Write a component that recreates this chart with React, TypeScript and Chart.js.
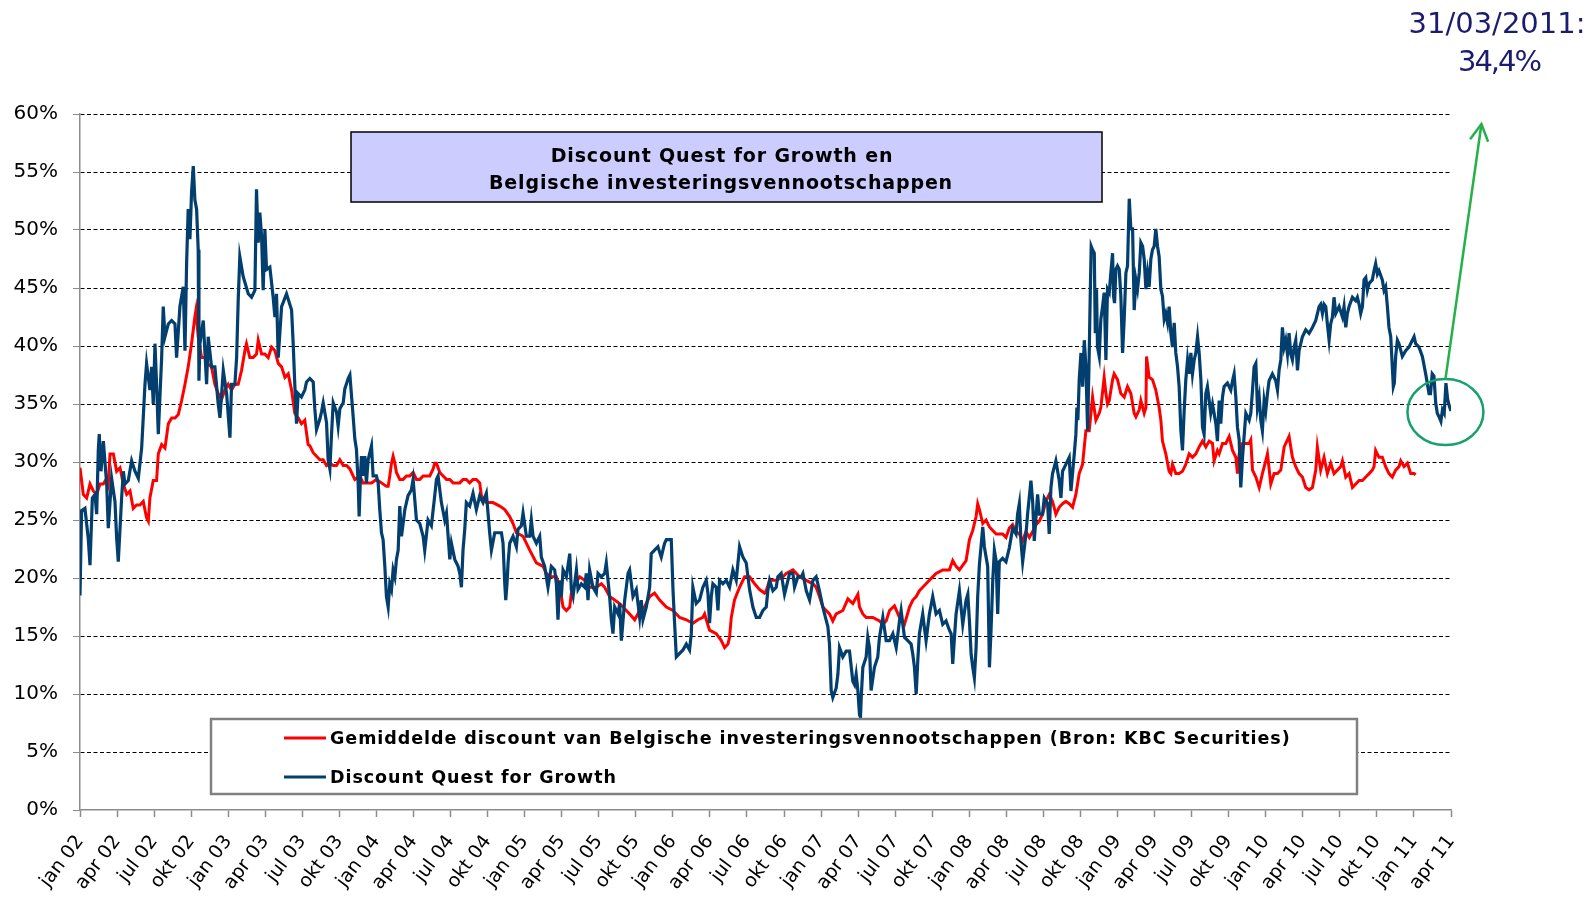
import React, { useEffect, useRef } from 'react';
import { Chart, registerables } from 'chart.js';

Chart.register(...registerables);

// x = months since January 2002, y = discount in %
const questDiscount: [number, number][] = [
  [0, 18.5], [0.13, 25.8], [0.4, 26.0], [0.67, 23.4], [0.81, 21.1], [1.0, 26.9], [1.21, 27.2], [1.35, 25.5], [1.48, 31.0], [1.56, 32.4],
  [1.7, 29.2], [1.89, 31.8], [2.16, 28.1], [2.29, 24.3], [2.56, 28.6], [2.83, 26.6], [2.97, 23.4], [3.1, 21.4], [3.37, 26.9], [3.51, 29.2],
  [3.64, 28.1], [3.91, 28.4], [4.18, 30.1], [4.45, 29.2], [4.72, 28.6], [4.99, 31.2], [5.12, 33.8], [5.26, 36.7], [5.39, 38.5], [5.66, 36.2],
  [5.8, 38.2], [5.93, 35.0], [6.07, 40.2], [6.2, 36.7], [6.34, 32.4], [6.61, 39.0], [6.74, 43.4], [6.88, 40.8], [7.15, 41.9], [7.42, 42.2],
  [7.69, 41.9], [7.82, 39.0], [8.09, 43.4], [8.36, 45.1], [8.5, 39.6], [8.63, 47.1], [8.76, 51.8], [8.9, 49.2], [9.03, 53.2], [9.17, 55.5],
  [9.3, 52.6], [9.44, 51.8], [9.57, 48.3], [9.63, 37.0], [9.71, 40.2], [9.98, 42.2], [10.25, 36.7], [10.38, 40.8], [10.65, 38.2], [10.92, 38.2],
  [11.19, 35.0], [11.33, 33.8], [11.6, 37.9], [11.87, 35.9], [12.14, 32.1], [12.27, 36.7], [12.54, 36.7], [12.68, 39.0], [12.81, 44.0], [12.94, 47.7],
  [13.21, 46.0], [13.62, 44.5], [13.89, 44.2], [14.16, 44.8], [14.29, 53.5], [14.43, 48.9], [14.56, 51.5], [14.7, 49.5], [14.83, 44.8], [14.97, 50.0],
  [15.1, 46.6], [15.37, 46.8], [15.64, 44.2], [15.78, 42.5], [15.91, 44.5], [16.05, 39.0], [16.32, 43.4], [16.72, 44.5], [17.13, 43.1], [17.26, 40.2],
  [17.39, 36.7], [17.53, 33.3], [17.66, 35.9], [17.93, 35.6], [18.2, 36.2],
  [18.34, 36.9], [18.61, 37.2], [18.88, 36.9], [19.01, 34.6], [19.15, 32.8], [19.42, 33.7], [19.55, 34.3], [19.69, 35.1], [19.96, 33.4], [20.09, 30.2],
  [20.23, 29.4], [20.36, 32.3], [20.5, 35.1], [20.77, 34.3], [20.9, 33.1], [21.04, 34.6], [21.31, 35.1], [21.44, 36.3], [21.71, 37.2], [21.85, 37.5],
  [22.11, 34.0], [22.25, 32.0], [22.38, 31.1], [22.52, 28.2], [22.6, 25.3], [22.71, 28.8], [22.79, 30.5], [22.92, 28.8], [23.06, 30.5], [23.19, 28.2],
  [23.33, 30.2], [23.6, 31.4], [23.73, 28.8], [24.0, 28.8], [24.14, 28.2], [24.27, 25.9], [24.41, 23.9], [24.54, 23.3], [24.68, 21.0], [24.81, 18.4],
  [24.95, 17.5], [25.08, 19.5], [25.22, 19.0], [25.35, 20.7], [25.49, 20.1], [25.62, 21.6], [25.76, 22.4], [25.89, 26.2], [26.03, 23.6], [26.3, 25.9],
  [26.56, 27.1], [26.83, 27.6], [26.97, 28.5], [27.1, 26.8], [27.24, 25.0], [27.51, 24.7], [27.78, 23.6], [27.91, 22.4], [28.18, 25.0], [28.45, 24.5],
  [28.72, 27.1], [28.86, 28.5], [28.99, 28.8], [29.26, 26.5], [29.53, 25.0], [29.67, 25.6], [29.94, 21.6], [30.07, 23.0], [30.34, 21.6], [30.61, 21.0],
  [30.75, 20.4], [30.88, 19.2], [31.01, 22.4], [31.15, 24.2], [31.28, 26.5], [31.55, 26.2], [31.82, 27.3], [32.09, 25.9], [32.36, 27.1], [32.63, 26.5],
  [32.9, 27.3], [33.17, 23.9], [33.31, 22.4], [33.58, 23.9], [33.85, 23.9], [34.12, 23.9], [34.25, 23.0], [34.39, 19.5], [34.47, 18.1], [34.57, 19.5],
  [34.66, 21.3], [34.79, 23.0], [35.06, 23.6], [35.33, 22.7], [35.46, 24.2], [35.73, 24.5], [35.87, 25.6], [36.14, 23.6], [36.41, 23.6], [36.54, 25.0],
  [36.68, 23.6], [36.95, 23.0],
  [37.22, 23.6], [37.35, 21.8], [37.62, 21.0], [37.89, 19.2], [38.16, 21.0], [38.43, 20.7], [38.57, 19.5], [38.7, 16.4], [38.84, 19.8], [38.97, 18.4],
  [39.11, 20.7], [39.38, 20.1], [39.65, 22.1], [39.78, 19.0], [39.92, 18.4], [40.19, 20.7], [40.32, 19.0], [40.59, 19.5], [40.86, 19.2], [40.99, 20.4],
  [41.13, 18.1], [41.26, 20.7], [41.53, 19.2], [41.8, 18.7], [41.94, 20.4], [42.21, 20.1], [42.48, 20.4], [42.61, 21.3], [42.88, 18.4], [43.02, 16.4],
  [43.15, 15.2], [43.29, 17.5], [43.56, 16.9], [43.69, 17.8], [43.83, 14.6], [44.1, 18.1], [44.37, 20.4], [44.5, 20.7], [44.77, 18.4], [45.04, 19.0],
  [45.31, 16.6], [45.44, 18.1], [45.58, 16.4], [45.85, 17.5], [46.12, 19.2], [46.25, 22.1], [46.52, 22.4], [46.79, 22.7], [47.06, 21.8], [47.33, 23.0],
  [47.47, 23.3], [47.74, 23.3], [47.87, 23.3], [48.01, 19.0], [48.14, 16.1], [48.28, 13.2], [48.55, 13.5], [48.82, 13.8], [49.09, 14.3], [49.35, 13.8],
  [49.49, 15.2], [49.62, 19.2], [49.89, 17.8], [50.16, 18.1], [50.43, 19.2], [50.7, 19.8], [50.84, 18.7], [50.97, 16.1], [51.11, 18.4], [51.24, 19.5],
  [51.51, 19.2], [51.65, 17.2], [51.78, 19.8], [52.05, 19.5], [52.32, 19.8], [52.59, 19.2], [52.86, 20.7], [53.13, 19.8], [53.4, 22.7], [53.67, 21.8],
  [53.94, 21.3], [54.21, 19.0], [54.48, 17.5], [54.75, 16.6], [55.02, 16.6], [55.29, 17.2], [55.56, 17.5],
  [55.69, 18.9], [55.83, 19.8], [56.1, 18.9], [56.37, 19.2], [56.5, 20.1], [56.77, 20.4], [57.04, 18.6], [57.18, 19.2], [57.45, 20.4], [57.72, 20.4],
  [57.85, 19.2], [58.12, 20.1], [58.39, 20.1], [58.53, 20.4], [58.8, 18.9], [59.07, 18.1], [59.34, 19.8], [59.6, 20.1], [59.87, 18.9], [60.14, 17.5],
  [60.28, 16.9], [60.55, 15.8], [60.68, 14.3], [60.82, 10.3], [60.95, 9.7], [61.22, 10.5], [61.36, 11.7], [61.49, 14.0], [61.76, 13.2], [62.03, 13.7],
  [62.3, 13.7], [62.57, 11.1], [62.71, 10.8], [62.84, 11.7], [62.98, 10.3], [63.11, 8.2], [63.19, 8.0], [63.25, 9.7], [63.38, 12.3], [63.65, 13.2],
  [63.78, 14.9], [63.92, 14.0], [64.05, 10.3], [64.32, 12.3], [64.59, 13.2], [64.73, 14.9], [65.0, 16.6], [65.27, 14.6], [65.54, 14.6], [65.81, 15.2],
  [66.08, 14.0], [66.35, 16.3], [66.48, 17.2], [66.75, 14.9], [67.02, 14.6], [67.29, 14.3], [67.43, 13.4], [67.56, 12.3], [67.7, 10.0], [67.83, 12.9],
  [67.96, 15.2], [68.23, 16.9], [68.5, 14.6], [68.77, 16.9], [69.04, 18.4], [69.31, 16.9], [69.58, 17.2], [69.85, 16.0], [70.12, 16.3], [70.39, 15.5],
  [70.53, 15.2], [70.66, 12.6], [70.8, 14.9], [70.93, 16.9], [71.2, 18.9], [71.47, 16.0], [71.74, 18.1], [71.88, 18.6], [72.01, 16.3], [72.15, 13.4],
  [72.28, 12.3], [72.41, 11.4], [72.55, 14.0], [72.68, 18.4], [72.82, 21.2], [72.95, 22.7], [73.09, 24.4], [73.22, 22.7], [73.36, 21.8], [73.49, 21.0],
  [73.63, 12.3], [73.76, 15.5], [73.9, 19.8], [74.03, 22.4], [74.17, 21.5], [74.3, 16.9],
  [74.43, 21.4], [74.7, 21.7], [74.97, 21.4], [75.24, 22.6], [75.51, 24.3], [75.78, 23.8], [75.91, 25.5], [76.05, 26.4], [76.18, 23.2], [76.32, 21.4],
  [76.59, 23.8], [76.72, 25.5], [76.99, 28.4], [77.13, 26.6], [77.26, 23.2], [77.53, 27.2], [77.67, 25.5], [77.93, 25.5], [78.07, 26.9], [78.34, 26.4],
  [78.47, 23.8], [78.61, 27.8], [78.74, 29.0], [79.01, 30.1], [79.28, 28.4], [79.42, 26.9], [79.55, 29.2], [79.82, 29.8], [80.09, 30.4], [80.23, 27.5],
  [80.36, 29.0], [80.5, 30.7], [80.63, 32.4], [80.71, 34.7], [80.79, 33.6], [80.9, 37.1], [81.04, 39.4], [81.17, 36.5], [81.31, 40.5], [81.44, 38.2],
  [81.58, 32.7], [81.71, 39.4], [81.79, 44.3], [81.87, 48.6], [81.98, 48.3], [82.12, 48.0], [82.2, 41.1], [82.3, 44.9], [82.38, 39.9], [82.52, 39.1],
  [82.65, 42.3], [82.79, 43.4], [82.92, 44.6], [83.06, 38.8], [83.19, 44.9], [83.33, 44.6], [83.46, 46.3], [83.6, 48.0], [83.68, 44.3], [83.76, 43.7],
  [83.87, 46.6], [84.0, 46.9], [84.14, 46.6], [84.27, 44.3], [84.41, 39.4], [84.54, 42.3], [84.68, 46.3], [84.81, 46.9], [84.95, 52.7], [85.08, 50.1],
  [85.22, 50.1], [85.35, 43.1], [85.49, 45.7], [85.62, 44.9], [85.76, 46.3], [85.89, 48.9], [86.03, 48.6], [86.16, 47.5], [86.3, 44.9], [86.43, 46.3],
  [86.56, 45.1], [86.7, 47.5], [86.83, 48.3], [86.97, 48.6], [87.1, 50.1], [87.24, 48.6], [87.37, 47.7], [87.51, 44.9], [87.64, 44.3], [87.78, 42.3],
  [87.91, 42.8], [88.05, 42.0], [88.18, 43.4], [88.32, 41.1], [88.45, 39.9], [88.59, 42.0], [88.72, 39.4], [88.86, 38.2], [88.99, 36.5], [89.13, 32.7],
  [89.26, 31.0], [89.4, 34.5], [89.53, 37.1], [89.67, 38.8], [89.8, 37.6], [89.94, 39.4], [90.07, 37.6], [90.21, 38.8], [90.34, 39.4], [90.48, 40.8],
  [90.61, 39.4], [90.75, 37.1], [90.88, 33.0], [91.01, 32.4], [91.15, 35.9], [91.28, 36.5], [91.42, 35.3], [91.55, 34.2], [91.69, 35.0], [91.82, 34.2],
  [91.96, 33.3], [92.09, 31.8],
  [92.23, 35.3], [92.36, 33.3], [92.5, 35.6], [92.63, 36.5], [92.9, 36.8], [93.17, 36.2], [93.31, 37.0], [93.44, 37.6], [93.58, 35.6], [93.71, 33.0],
  [93.85, 31.9], [93.98, 27.8], [94.12, 30.4], [94.25, 32.2], [94.39, 34.2], [94.66, 33.6], [94.79, 34.2], [94.93, 36.2], [95.06, 38.2], [95.2, 38.5],
  [95.33, 34.7], [95.47, 35.6], [95.6, 33.6], [95.73, 32.7], [95.87, 35.3], [96.0, 34.4], [96.14, 35.9], [96.27, 37.0], [96.54, 37.6], [96.81, 37.0],
  [96.95, 36.2], [97.08, 37.9], [97.22, 38.8], [97.35, 41.6], [97.49, 39.9], [97.62, 40.5], [97.76, 39.3], [97.89, 41.1], [98.03, 39.3], [98.16, 38.8],
  [98.3, 39.9], [98.43, 40.5], [98.57, 37.9], [98.7, 39.6], [98.97, 40.8], [99.24, 41.4], [99.51, 41.1], [99.78, 41.6], [100.05, 42.2], [100.32, 43.4],
  [100.45, 43.6], [100.59, 42.8], [100.72, 43.6], [100.86, 43.4], [100.99, 41.9], [101.13, 40.5], [101.26, 41.9], [101.4, 42.5], [101.53, 44.2], [101.67, 42.8],
  [101.94, 43.4], [102.21, 42.5], [102.34, 43.4], [102.48, 41.6], [102.61, 42.8], [102.75, 43.4], [103.02, 44.2], [103.29, 43.9], [103.42, 44.2], [103.56, 43.6],
  [103.69, 42.8], [103.83, 43.4], [103.96, 45.7], [104.1, 45.9], [104.23, 44.8], [104.37, 45.4], [104.63, 45.7], [104.77, 46.5], [104.9, 47.1], [105.04, 46.2],
  [105.17, 46.5], [105.44, 45.7], [105.58, 44.8], [105.71, 45.1], [105.85, 43.4], [105.98, 41.6], [106.12, 40.8], [106.25, 38.2], [106.33, 36.5], [106.41, 36.8],
  [106.52, 39.1], [106.66, 40.5], [106.79, 40.2], [107.06, 39.1], [107.33, 39.6], [107.6, 39.9], [107.87, 40.5], [108.01, 40.8], [108.14, 40.2], [108.41, 39.9],
  [108.68, 39.1], [108.95, 37.6], [109.08, 36.8], [109.22, 35.9], [109.34, 35.9], [109.48, 37.6], [109.62, 37.4], [109.76, 35.1], [109.89, 34.2], [110.03, 33.9],
  [110.18, 33.5], [110.31, 34.5], [110.45, 34.2], [110.59, 36.8], [110.73, 35.4], [110.87, 34.8], [111.0, 34.4],
];

const avgDiscount: [number, number][] = [
  [0, 29.5], [0.27, 27.2], [0.54, 26.9], [0.81, 28.1], [1.08, 27.5], [1.35, 27.2], [1.62, 28.1], [1.89, 28.1], [2.16, 28.6], [2.29, 28.1],
  [2.43, 30.7], [2.7, 30.7], [2.97, 29.2], [3.24, 29.5], [3.51, 28.1], [3.78, 27.2], [4.05, 27.5], [4.31, 26.0], [4.58, 26.3], [4.85, 26.3],
  [5.12, 26.6], [5.39, 25.2], [5.53, 24.9], [5.66, 26.9], [5.93, 28.4], [6.2, 28.4], [6.34, 30.7], [6.61, 31.5], [6.88, 31.2], [7.15, 33.3],
  [7.42, 33.8], [7.69, 33.8], [7.96, 34.1], [8.23, 35.3], [8.5, 36.7], [8.76, 38.2], [9.03, 40.2], [9.3, 42.5], [9.39, 43.1], [9.57, 40.8],
  [9.84, 39.0], [10.11, 39.0], [10.38, 38.4], [10.65, 38.2], [10.92, 36.7], [11.19, 35.9], [11.46, 35.4], [11.73, 36.2], [12.0, 36.7], [12.27, 36.2],
  [12.54, 36.7], [12.81, 36.7], [13.08, 37.9], [13.35, 39.6], [13.48, 40.2], [13.75, 39.0], [14.02, 39.0], [14.29, 39.3], [14.43, 40.5], [14.7, 39.3],
  [14.97, 39.3], [15.24, 39.0], [15.51, 39.9], [15.78, 39.6], [16.05, 38.5], [16.32, 38.2], [16.59, 37.3], [16.86, 37.6], [17.13, 36.2], [17.39, 34.2],
  [17.66, 33.8], [17.93, 33.3], [18.2, 33.6], [18.47, 31.5],
  [18.61, 31.4], [18.88, 30.8], [19.15, 30.5], [19.42, 30.2], [19.69, 30.2], [19.96, 29.7], [20.23, 29.9], [20.5, 29.7], [20.77, 29.7], [21.04, 30.2],
  [21.31, 29.7], [21.58, 29.7], [21.85, 29.4], [22.11, 28.8], [22.25, 28.5], [22.65, 28.8], [22.92, 28.2], [23.19, 28.2], [23.6, 28.2], [24.0, 28.5],
  [24.41, 28.2], [24.81, 27.9], [24.95, 27.9], [25.08, 28.8], [25.22, 29.9], [25.35, 30.5], [25.49, 29.9], [25.62, 29.1], [25.89, 28.5], [26.16, 28.5],
  [26.43, 28.8], [26.7, 28.8], [26.97, 29.1], [27.24, 28.5], [27.51, 28.5], [27.78, 28.8], [28.05, 28.8], [28.32, 28.8], [28.59, 29.4], [28.72, 29.9],
  [28.86, 29.9], [29.13, 29.1], [29.4, 28.8], [29.67, 28.5], [29.94, 28.5], [30.21, 28.2], [30.48, 28.2], [30.75, 28.2], [31.01, 28.5], [31.28, 28.5],
  [31.55, 28.2], [31.82, 28.5], [32.09, 28.5], [32.36, 28.2], [32.5, 27.1], [32.9, 26.5], [33.44, 26.5], [33.98, 26.2], [34.39, 25.9], [34.79, 25.3],
  [35.06, 24.7], [35.33, 23.9], [35.87, 23.6], [36.41, 22.4], [36.95, 21.3],
  [37.49, 21.0], [37.76, 20.4], [38.03, 20.1], [38.3, 20.1], [38.57, 20.1], [38.84, 19.2], [38.97, 18.4], [39.11, 17.5], [39.38, 17.2], [39.65, 17.5],
  [39.78, 18.7], [40.05, 19.5], [40.46, 20.1], [40.86, 19.8], [41.26, 19.2], [41.8, 19.2], [42.21, 19.5], [42.48, 19.2], [42.88, 18.4], [43.29, 18.1],
  [43.69, 17.8], [44.23, 17.2], [44.5, 16.9], [44.91, 16.4], [45.31, 17.2], [45.71, 17.5], [46.12, 18.4], [46.52, 18.7], [46.93, 18.1], [47.47, 17.5],
  [48.01, 17.2], [48.55, 16.6], [49.09, 16.4], [49.62, 16.1], [50.03, 16.4], [50.43, 16.6], [50.57, 16.9], [50.97, 15.5], [51.51, 15.2], [51.92, 14.6],
  [52.19, 14.0], [52.46, 14.3], [52.59, 14.9], [52.73, 16.6], [52.99, 18.1], [53.4, 19.2], [53.81, 20.1], [54.21, 20.1], [54.62, 19.5], [55.02, 19.0],
  [55.42, 18.7],
  [55.56, 18.9], [55.83, 19.8], [56.37, 19.8], [56.91, 20.1], [57.18, 20.4], [57.72, 20.7], [58.26, 20.1], [58.8, 19.8], [59.34, 19.5], [59.6, 19.2],
  [59.87, 18.4], [60.14, 17.5], [60.41, 17.2], [60.68, 16.9], [60.95, 16.3], [61.22, 16.9], [61.76, 17.2], [62.17, 18.2], [62.57, 17.8], [62.98, 18.6],
  [63.11, 17.5], [63.38, 16.9], [63.65, 16.6], [64.19, 16.6], [64.73, 16.3], [65.0, 16.0], [65.27, 16.3], [65.54, 17.2], [65.94, 17.6], [66.35, 16.6],
  [66.75, 16.0], [67.16, 17.5], [67.43, 18.1], [67.7, 18.4], [67.96, 18.9], [68.23, 19.2], [68.5, 19.5], [68.77, 19.8], [69.04, 20.1], [69.31, 20.4],
  [69.85, 20.7], [70.39, 20.7], [70.66, 21.5], [70.93, 21.0], [71.2, 20.7], [71.74, 21.5], [72.01, 23.3], [72.28, 24.1], [72.55, 25.3], [72.68, 26.4],
  [72.82, 25.9], [73.09, 24.7], [73.36, 25.0], [73.63, 24.4], [73.9, 24.1], [74.17, 23.8],
  [74.43, 23.8], [74.7, 23.8], [74.97, 23.5], [75.24, 24.3], [75.51, 24.6], [75.78, 24.0], [76.05, 23.8], [76.32, 23.2], [76.59, 24.0], [76.86, 23.5],
  [77.13, 24.0], [77.4, 24.6], [77.67, 24.9], [77.93, 25.5], [78.2, 26.6], [78.47, 27.2], [78.74, 26.6], [79.01, 25.5], [79.28, 26.1], [79.55, 26.4],
  [79.82, 26.6], [80.09, 26.4], [80.36, 26.1], [80.63, 27.2], [80.9, 29.0], [81.17, 29.8], [81.31, 31.3], [81.44, 32.7], [81.71, 32.7], [81.85, 34.2],
  [81.98, 35.6], [82.25, 33.6], [82.52, 34.2], [82.65, 34.7], [82.92, 37.3], [83.06, 35.9], [83.19, 35.0], [83.33, 35.3], [83.6, 37.1], [83.73, 37.6],
  [84.0, 37.1], [84.27, 35.9], [84.54, 35.6], [84.81, 36.5], [85.08, 35.9], [85.35, 34.2], [85.49, 33.9], [85.76, 34.5], [85.89, 35.3], [86.16, 34.2],
  [86.3, 34.7], [86.35, 39.1], [86.56, 37.3], [86.83, 37.1], [87.1, 36.2], [87.37, 34.7], [87.51, 33.6], [87.64, 31.8], [87.91, 30.7], [88.18, 29.2],
  [88.32, 29.0], [88.45, 29.8], [88.72, 29.0], [88.99, 29.0], [89.26, 29.2], [89.53, 29.8], [89.8, 30.7], [90.07, 30.4], [90.34, 30.7], [90.61, 31.3],
  [90.88, 31.8], [91.15, 31.3], [91.42, 31.8], [91.69, 31.6], [91.82, 30.1], [92.09, 31.0],
  [92.23, 30.7], [92.5, 31.6], [92.77, 31.6], [93.04, 32.2], [93.31, 31.0], [93.58, 30.4], [93.71, 29.0], [93.85, 30.7], [94.12, 31.6], [94.39, 31.6],
  [94.66, 31.6], [94.79, 31.9], [94.93, 29.3], [95.2, 28.7], [95.47, 27.8], [95.73, 29.0], [96.0, 30.1], [96.14, 30.7], [96.41, 28.1], [96.68, 29.0],
  [96.95, 29.0], [97.22, 29.3], [97.49, 31.3], [97.76, 31.9], [97.89, 32.2], [98.16, 30.4], [98.43, 29.6], [98.7, 29.0], [98.97, 28.7], [99.24, 27.8],
  [99.51, 27.6], [99.78, 27.8], [100.05, 29.3], [100.18, 31.3], [100.45, 29.3], [100.72, 30.4], [100.99, 29.0], [101.26, 29.9], [101.53, 29.0], [101.8, 29.3],
  [102.07, 29.6], [102.21, 30.1], [102.48, 28.7], [102.75, 29.0], [103.02, 27.8], [103.29, 28.1], [103.56, 28.4], [103.83, 28.4], [104.1, 28.7], [104.37, 29.0],
  [104.63, 29.3], [104.77, 29.6], [104.9, 31.0], [105.17, 30.4], [105.44, 30.4], [105.71, 29.6], [105.98, 29.0], [106.25, 28.7], [106.52, 29.3], [106.79, 29.6],
  [106.93, 30.1], [107.2, 29.6], [107.47, 29.9], [107.74, 29.0], [108.01, 29.0], [108.14, 28.9],
];

const quarterLabels = [
  'jan 02', 'apr 02', 'jul 02', 'okt 02', 'jan 03', 'apr 03', 'jul 03', 'okt 03', 'jan 04', 'apr 04',
  'jul 04', 'okt 04', 'jan 05', 'apr 05', 'jul 05', 'okt 05', 'jan 06', 'apr 06', 'jul 06', 'okt 06',
  'jan 07', 'apr 07', 'jul 07', 'okt 07', 'jan 08', 'apr 08', 'jul 08', 'okt 08', 'jan 09', 'apr 09',
  'jul 09', 'okt 09', 'jan 10', 'apr 10', 'jul 10', 'okt 10', 'jan 11', 'apr 11',
];

const seriesNames = [
  'Gemiddelde discount van Belgische investeringsvennootschappen (Bron: KBC Securities)',
  'Discount Quest for Growth',
];
const titleLines = ['Discount Quest for Growth en', 'Belgische investeringsvennootschappen'];
const annotationLines = ['31/03/2011:', '34,4%'];

const RED = '#FF0000';
const NAVY_LINE = '#023F6E';
const FONT = '"DejaVu Sans", Verdana, sans-serif';

const decorations = {
  id: 'decorations',
  afterDraw(chart: any) {
    const { ctx, scales } = chart;
    const xs = scales.x;
    const ys = scales.y;
    ctx.save();

    // Title box
    ctx.fillStyle = '#CCCCFF';
    ctx.fillRect(351, 132, 751, 70);
    ctx.strokeStyle = '#000000';
    ctx.lineWidth = 1.5;
    ctx.strokeRect(351, 132, 751, 70);
    ctx.fillStyle = '#000000';
    ctx.font = `bold 19px ${FONT}`;
    ctx.letterSpacing = '0.85px';
    ctx.textAlign = 'center';
    ctx.textBaseline = 'middle';
    ctx.fillText(titleLines[0], 722, 157);
    ctx.fillText(titleLines[1], 721, 184);

    // Legend box
    ctx.fillStyle = '#FFFFFF';
    ctx.fillRect(211, 719, 1146, 75);
    ctx.strokeStyle = '#808080';
    ctx.lineWidth = 2.5;
    ctx.strokeRect(211, 719, 1146, 75);
    const legendColors = [RED, NAVY_LINE];
    const legendY = [738, 777];
    ctx.font = `bold 17.5px ${FONT}`;
    ctx.letterSpacing = '0.95px';
    ctx.textAlign = 'left';
    ctx.textBaseline = 'middle';
    seriesNames.forEach((name, i) => {
      ctx.strokeStyle = legendColors[i];
      ctx.lineWidth = 3;
      ctx.beginPath();
      ctx.moveTo(284, legendY[i]);
      ctx.lineTo(326, legendY[i]);
      ctx.stroke();
      ctx.fillStyle = '#000000';
      ctx.fillText(name, 330, legendY[i] + 1);
    });

    // Highlight last value
    const last = questDiscount[questDiscount.length - 1];
    const cx = xs.getPixelForValue(last[0] - 0.45);
    const cy = ys.getPixelForValue(last[1] - 0.1);
    ctx.strokeStyle = '#17A06C';
    ctx.lineWidth = 2.5;
    ctx.beginPath();
    ctx.ellipse(cx, cy, 38, 33, 0, 0, Math.PI * 2);
    ctx.stroke();

    // Arrow
    const sx = cx;
    const sy = cy - 33;
    const tx = cx + 36;
    const ty = 124;
    ctx.strokeStyle = '#24B04A';
    ctx.lineWidth = 2.5;
    ctx.beginPath();
    ctx.moveTo(sx, sy);
    ctx.lineTo(tx, ty);
    ctx.stroke();
    const ang = Math.atan2(ty - sy, tx - sx);
    const head = 19;
    ctx.beginPath();
    ctx.moveTo(tx + head * Math.cos(ang + Math.PI - 0.5), ty + head * Math.sin(ang + Math.PI - 0.5));
    ctx.lineTo(tx, ty);
    ctx.lineTo(tx + head * Math.cos(ang + Math.PI + 0.5), ty + head * Math.sin(ang + Math.PI + 0.5));
    ctx.stroke();

    // Annotation text
    ctx.fillStyle = '#1C1C6E';
    ctx.font = `29px ${FONT}`;
    ctx.textAlign = 'center';
    ctx.textBaseline = 'alphabetic';
    ctx.letterSpacing = '0px';
    ctx.fillText(annotationLines[0], 1497, 33);
    ctx.letterSpacing = '-2px';
    ctx.fillText(annotationLines[1], 1499, 71);

    ctx.restore();
  },
};

export default function App() {
  const canvasRef = useRef<HTMLCanvasElement>(null);

  useEffect(() => {
    if (!canvasRef.current) return;
    Chart.defaults.font.family = FONT;
    const chart = new Chart(canvasRef.current, {
      type: 'line',
      data: {
        datasets: [
          {
            label: seriesNames[0],
            data: avgDiscount.map(([x, y]) => ({ x, y })),
            borderColor: RED,
            backgroundColor: RED,
            borderWidth: 3,
            pointRadius: 0,
            tension: 0,
            order: 1,
          },
          {
            label: seriesNames[1],
            data: questDiscount.map(([x, y]) => ({ x, y })),
            borderColor: NAVY_LINE,
            backgroundColor: NAVY_LINE,
            borderWidth: 3.2,
            pointRadius: 0,
            tension: 0,
            order: 0,
          },
        ],
      },
      options: {
        responsive: false,
        animation: false,
        parsing: true,
        layout: { padding: { top: 114, right: 138, left: 0, bottom: 0 } },
        plugins: {
          legend: { display: false },
          title: { display: false },
          tooltip: { enabled: false },
        },
        scales: {
          x: {
            type: 'linear',
            min: 0,
            max: 111,
            afterFit: (scale: any) => {
              scale.height = 92;
            },
            ticks: {
              stepSize: 3,
              autoSkip: false,
              minRotation: 53,
              maxRotation: 53,
              padding: 14,
              color: '#000000',
              font: { size: 19, family: FONT },
              callback: (value: any) => quarterLabels[Math.round(Number(value) / 3)] ?? '',
            },
            grid: {
              display: true,
              drawOnChartArea: false,
              drawTicks: true,
              tickLength: 7,
              tickColor: '#8C8C8C',
              tickWidth: 1.5,
            },
            border: { display: true, color: '#8C8C8C', width: 1.5 },
          },
          y: {
            type: 'linear',
            min: 0,
            max: 60,
            afterFit: (scale: any) => {
              scale.width = 80;
            },
            ticks: {
              stepSize: 5,
              padding: 15,
              color: '#000000',
              font: { size: 20, family: FONT },
              callback: (value: any) => `${value}%`,
            },
            grid: {
              color: (c: any) => (c.tick && c.tick.value === 0 ? 'rgba(0,0,0,0)' : '#000000'),
              lineWidth: 1,
              tickLength: 7,
              tickColor: '#8C8C8C',
              tickWidth: 1,
              tickBorderDash: [],
            },
            border: { display: true, color: '#8C8C8C', width: 1.5, dash: [4, 2.5] },
          },
        },
      },
      plugins: [decorations],
    });
    return () => chart.destroy();
  }, []);

  return (
    <div style={{ position: 'absolute', left: 0, top: 0, width: 1589, height: 902, background: '#FFFFFF' }}>
      <canvas ref={canvasRef} width={1589} height={902} style={{ display: 'block' }} />
    </div>
  );
}
